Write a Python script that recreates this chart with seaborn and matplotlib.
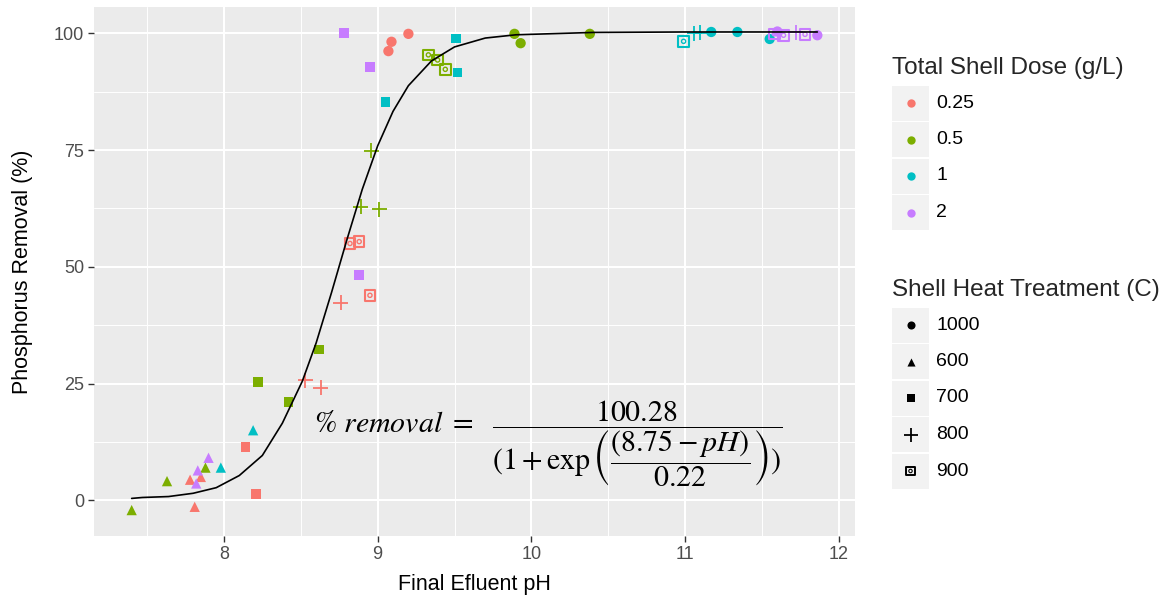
import matplotlib
matplotlib.use("Agg")
import matplotlib.pyplot as plt
import numpy as np
import pandas as pd
import seaborn as sns
from matplotlib.patches import Rectangle

# ---------------- data ----------------
ph = [9.20, 9.09, 9.07, 7.78, 7.85, 7.81, 8.14, 8.21, 8.76, 8.53, 8.63, 8.82, 8.88, 8.95,
      9.89, 9.93, 10.38, 7.88, 7.63, 7.40, 8.62, 8.42, 8.22, 8.96, 8.89, 9.01, 9.33, 9.39, 9.44,
      11.17, 11.34, 11.55, 8.19, 7.98, 9.51, 9.52, 9.05, 11.06, 11.10, 10.99,
      11.60, 11.86, 7.90, 7.83, 7.82, 8.78, 8.95, 8.88, 11.72, 11.58, 11.64, 11.78]
removal = [99.9, 98.2, 96.2, 4.4, 5.0, -1.4, 11.4, 1.4, 42.3, 25.7, 24.1, 55.0, 55.4, 43.9,
           99.9, 97.9, 99.9, 7.0, 4.1, -2.1, 32.3, 21.1, 25.4, 74.9, 62.9, 62.3, 95.4, 94.3, 92.3,
           100.3, 100.3, 98.8, 15.0, 7.0, 98.9, 91.6, 85.3, 100.0, 100.1, 98.3,
           100.4, 99.6, 9.1, 6.4, 3.6, 100.1, 92.8, 48.2, 100.2, 99.9, 99.6, 99.8]
dose = (["0.25"] * 14 + ["0.5"] * 15 + ["1"] * 11 + ["2"] * 12)
heat = ["1000", "1000", "1000", "600", "600", "600", "700", "700", "800", "800", "800", "900", "900", "900",
        "1000", "1000", "1000", "600", "600", "600", "700", "700", "700", "800", "800", "800", "900", "900", "900",
        "1000", "1000", "1000", "600", "600", "700", "700", "700", "800", "800", "900",
        "1000", "1000", "600", "600", "600", "700", "700", "700", "800", "900", "900", "900"]

# fitted curve
curve_ph = [7.40, 7.47, 7.64, 7.80, 7.95, 8.10, 8.25, 8.38, 8.51, 8.60, 8.70, 8.80, 8.90,
            9.00, 9.10, 9.20, 9.35, 9.50, 9.70, 9.90, 10.40, 11.00, 11.86]
curve_removal = [0.4, 0.6, 0.8, 1.5, 2.7, 5.3, 9.6, 16.5, 25.5, 33.7, 44.5, 55.8, 66.6,
                 75.9, 83.3, 88.8, 94.1, 97.1, 99.0, 99.7, 100.2, 100.3, 100.3]

dose_levels = ["0.25", "0.5", "1", "2"]
heat_levels = ["1000", "600", "700", "800", "900"]
dose_colors = ["#F8766D", "#7CAE00", "#00BFC4", "#C77CFF"]
x_ticks = [8, 9, 10, 11, 12]
y_ticks = [0, 25, 50, 75, 100]

df = pd.DataFrame({"ph": ph, "removal": removal, "dose": dose, "heat": heat})
palette = dict(zip(dose_levels, dose_colors))

# ---------------- style ----------------
sns.set_theme(style="darkgrid")
plt.rcParams["font.family"] = ["Liberation Sans", "DejaVu Sans"]
plt.rcParams["mathtext.fontset"] = "stix"

W, H = 1175, 598
fig = plt.figure(figsize=(W / 100, H / 100), dpi=100)
ax = fig.add_axes([94 / W, 1 - 536 / H, 761 / W, 529 / H])
ax.set_facecolor("#EBEBEB")

# ---------------- points ----------------
sizes = {"1000": 55, "600": 55, "700": 48, "800": 115, "900": 58}
for h, m in zip(["1000", "600", "700"], ["o", "^", "s"]):
    sub = df[df["heat"] == h]
    sns.scatterplot(data=sub, x="ph", y="removal", hue="dose", palette=palette,
                    hue_order=dose_levels, marker=m, s=sizes[h], linewidth=0,
                    legend=False, ax=ax, zorder=3)
sub = df[df["heat"] == "800"]
sns.scatterplot(data=sub, x="ph", y="removal", hue="dose", palette=palette,
                hue_order=dose_levels, marker="+", s=sizes["800"], linewidth=1.3,
                legend=False, ax=ax, zorder=3)
sub = df[df["heat"] == "900"]
sns.scatterplot(data=sub, x="ph", y="removal", hue="dose", palette=palette,
                hue_order=dose_levels, marker="s", s=sizes["900"], linewidth=1.5,
                legend=False, ax=ax, zorder=3)
coll = ax.collections[-1]
fc = coll.get_facecolors()
coll.set_edgecolors(fc)
coll.set_facecolors("none")
sns.scatterplot(data=sub, x="ph", y="removal", hue="dose", palette=palette,
                hue_order=dose_levels, marker="o", s=9, linewidth=1.0,
                legend=False, ax=ax, zorder=3)
coll = ax.collections[-1]
fc = coll.get_facecolors()
coll.set_edgecolors(fc)
coll.set_facecolors("none")

# ---------------- curve ----------------
sns.lineplot(x=curve_ph, y=curve_removal, color="black", linewidth=1.2, sort=False,
             ax=ax, zorder=4)

# ---------------- axes ----------------
ax.set_xlim(7.155, 12.105)
ax.set_ylim(-7.65, 105.65)
ax.set_xticks(x_ticks)
ax.set_yticks(y_ticks)
ax.set_xticks([7.5, 8.5, 9.5, 10.5, 11.5], minor=True)
ax.set_yticks([12.5, 37.5, 62.5, 87.5], minor=True)
ax.grid(which="major", color="white", linewidth=1.5)
ax.grid(which="minor", color="white", linewidth=0.7)
ax.set_axisbelow(True)
for s in ax.spines.values():
    s.set_visible(False)
ax.tick_params(which="major", length=4, width=1.0, color="#333333",
               labelcolor="#4D4D4D", labelsize=13, bottom=True, left=True, pad=3)
ax.tick_params(which="minor", length=0)
ax.set_xlabel("Final Efluent pH", fontsize=15.5, color="black", labelpad=8)
ax.set_ylabel("Phosphorus Removal (%)", fontsize=15.5, color="black", labelpad=15)

formula = (r"$\%\ removal\ =\ \ \dfrac{100.28}"
           r"{(1+\exp\left(\dfrac{(8.75-pH)}{0.22}\right))}$")
ax.text(10.11, 12.2, formula, fontsize=21.5, ha="center", va="center", color="black", zorder=5)

# ---------------- legends (drawn by hand in pixel space) ----------------
ov = fig.add_axes([0, 0, 1, 1], facecolor="none")
ov.set_xlim(0, W)
ov.set_ylim(H, 0)
ov.axis("off")

def key_box(cy):
    ov.add_patch(Rectangle((892, cy - 17.5), 37, 35, facecolor="#F2F2F2", edgecolor="none"))

ov.text(892, 68, "Total Shell Dose (g/L)", fontsize=17.5, ha="left", va="center")
for i, (lab, col) in enumerate(zip(dose_levels, dose_colors)):
    cy = 103 + i * 36.5
    key_box(cy)
    ov.scatter([910.5], [cy], s=36, color=col, linewidth=0)
    ov.text(936, cy, lab, fontsize=14, ha="left", va="center", color="black")

ov.text(892, 290, "Shell Heat Treatment (C)", fontsize=17.5, ha="left", va="center")
leg_m = ["o", "^", "s", "+", "s"]
for i, (lab, m) in enumerate(zip(heat_levels, leg_m)):
    cy = 325 + i * 36.5
    key_box(cy)
    if lab == "800":
        ov.scatter([910.5], [cy], s=110, marker="+", color="black", linewidth=1.3)
    elif lab == "900":
        ov.scatter([910.5], [cy], s=34, marker="s", facecolor="none", edgecolor="black", linewidth=1.4)
        ov.scatter([910.5], [cy], s=6, marker="o", facecolor="none", edgecolor="black", linewidth=0.8)
    else:
        ov.scatter([910.5], [cy], s=34, marker=m, color="black", linewidth=0)
    ov.text(936, cy, lab, fontsize=14, ha="left", va="center", color="black")

fig.savefig("out.png", dpi=100)
